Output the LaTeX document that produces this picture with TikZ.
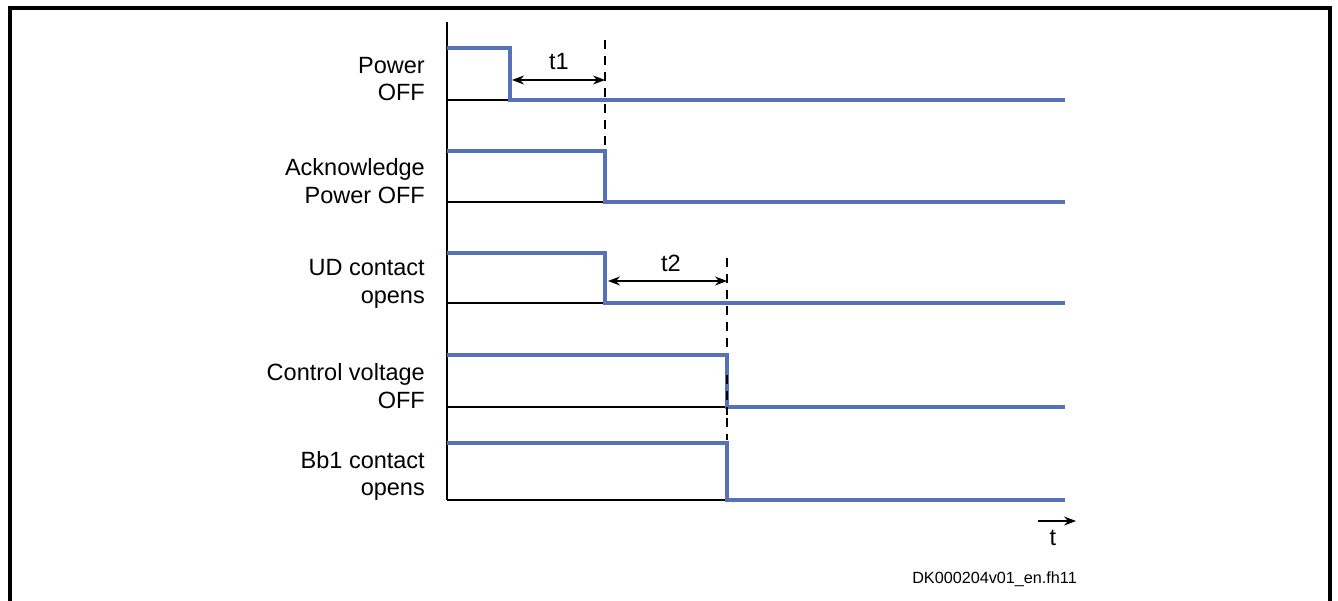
\documentclass[tikz,border=0pt]{standalone}
\usepackage{fontspec}
\setmainfont{Liberation Sans}
\usetikzlibrary{arrows.meta}
\definecolor{sigblue}{RGB}{86,112,186}
\begin{document}
\begin{tikzpicture}[x=1pt,y=-1pt,
  frame/.style={line width=3.2pt,draw=black},
  axis/.style={line width=1.2pt,black},
  sig/.style={line width=3.2pt,sigblue,line join=miter},
  guide/.style={line width=1.2pt,black,dash pattern=on 9pt off 7pt},
  dim/.style={line width=1.2pt,black,{Stealth[length=12pt,width=9pt]}-{Stealth[length=12pt,width=9pt]}},
  lbl/.style={font=\fontsize{23.5}{28}\selectfont,align=right,anchor=east,inner sep=0pt},
  small/.style={font=\fontsize{23.5}{28}\selectfont,inner sep=0pt}]
\useasboundingbox (0,0) rectangle (1338,601);
\draw[frame] (10,601) -- (10,8) -- (1330,8) -- (1330,601);
% axis
\coordinate (ax0) at (447,22);
\coordinate (ax1) at (447,500);
\draw[axis] (ax0) -- (ax1);
% baselines
\foreach \y in {100,202,303,407,500}{\draw[axis] (447,\y) -- (1065,\y);}
% labels
\node[lbl] (l1) at (425,79) {Power\\[-0.5pt]OFF};
\node[lbl] (l2) at (425,181) {Acknowledge\\[-0.5pt]Power OFF};
\node[lbl] (l3) at (425,284) {UD contact\\[-0.5pt]opens};
\node[lbl] (l4) at (425,386) {Control voltage\\[-0.5pt]OFF};
\node[lbl] (l5) at (425,476) {Bb1 contact\\[-0.5pt]opens};
% dashed guides
\coordinate (g1a) at (605,40);
\coordinate (g1b) at (605,150);
\coordinate (g2a) at (727,258);
\coordinate (g2b) at (727,440);
\draw[guide] (g1a) -- (g1b);
\draw[guide] (g2a) -- (g2b);
% signals
\draw[sig] (447,48) -- (510,48) -- (510,100) -- (1065,100);
\draw[sig] (447,151) -- (605,151) -- (605,202) -- (1065,202);
\draw[sig] (447,253) -- (605,253) -- (605,303) -- (1065,303);
\draw[sig] (447,355) -- (727,355) -- (727,407) -- (1065,407);
\draw[sig] (447,443) -- (727,443) -- (727,500) -- (1065,500);
\draw[guide] (727,375) -- (727,415);
% dimensions
\coordinate (d1a) at (512,80);
\coordinate (d1b) at (605,80);
\draw[dim] (d1a) -- (d1b);
\node[small] (t1) at (559,62) {t1};
\coordinate (d2a) at (608,281);
\coordinate (d2b) at (727,281);
\draw[dim] (d2a) -- (d2b);
\node[small] (t2) at (671,263) {t2};
% time arrow
\coordinate (ta) at (1038,521);
\coordinate (tb) at (1076,521);
\draw[line width=1.2pt,-{Stealth[length=12pt,width=9pt]}] (ta) -- (tb);
\node[small] (tt) at (1053,538) {t};
\node[font=\fontsize{16.2}{19}\selectfont,anchor=east,inner sep=0pt] (dk) at (1077,579) {DK000204v01\_en.fh11};
\end{tikzpicture}
\end{document}
